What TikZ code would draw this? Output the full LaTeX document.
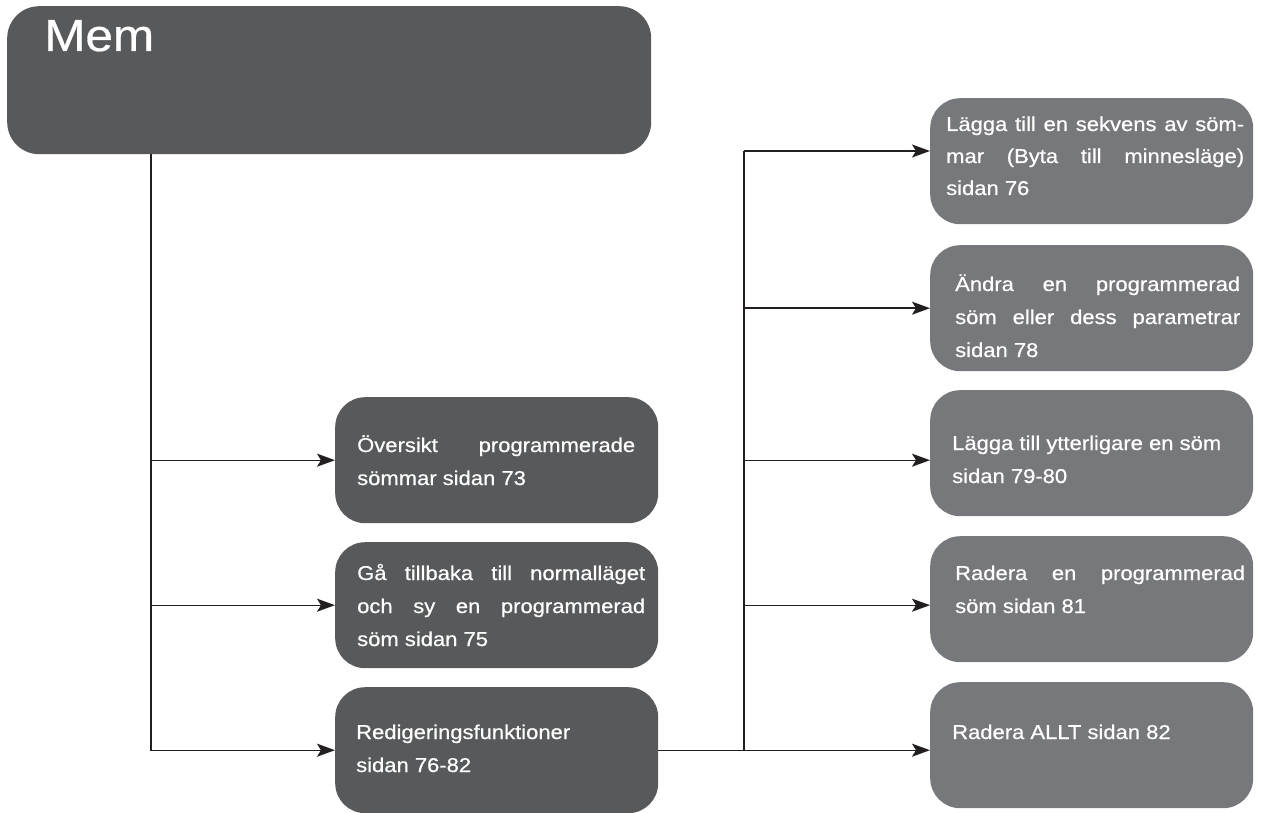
\documentclass[tikz,border=0pt]{standalone}
\usepackage{fontspec}
\setmainfont[FakeStretch=1.1,FakeBold=0.6]{Liberation Sans}
\usetikzlibrary{arrows.meta}
\definecolor{dkbox}{HTML}{58595B}
\definecolor{ltbox}{HTML}{77787B}
\definecolor{wirec}{HTML}{231F20}
\begin{document}
\begin{tikzpicture}[x=1pt,y=-1pt,
  box/.style={rounded corners=30pt, inner sep=0pt, minimum width=323pt, minimum height=126pt, anchor=north west},
  dbox/.style={box, fill=dkbox},
  lbox/.style={box, fill=ltbox},
  txt/.style={anchor=base west, inner sep=0pt, text=white, font=\fontsize{20}{33}\selectfont},
  wire/.style={draw=wirec, line width=1.4pt},
  arr/.style={wire, -{Stealth[length=18pt,width=13pt,inset=4pt]}}]
\fill[white] (0,0) rectangle (1262,813);
\useasboundingbox (0,0) rectangle (1262,813);
% boxes
\node[dbox, minimum width=644pt, minimum height=148pt, rounded corners=32pt] (m) at (7,6) {};
\node[dbox] (b1) at (335,397) {};
\node[dbox] (b2) at (335,542) {};
\node[dbox] (b3) at (335,687) {};
\node[lbox] (r1) at (930,98) {};
\node[lbox] (r2) at (930,245) {};
\node[lbox] (r3) at (930,390) {};
\node[lbox] (r4) at (930,536) {};
\node[lbox] (r5) at (930,682) {};
% texts
\node[anchor=base west, inner sep=0pt, text=white, font=\fontsize{45}{45}\selectfont] (mt) at (44,51) {Mem};
\node[txt] (t1) at (357,452) {\parbox[t]{278pt}{Översikt programmerade\linebreak sömmar sidan 73}};
\node[txt] (t2) at (357,580) {\parbox[t]{288pt}{Gå tillbaka till normalläget\linebreak och sy en programmerad\linebreak söm sidan 75}};
\node[txt] (t3) at (356,739) {\parbox[t]{290pt}{Redigeringsfunktioner\newline sidan 76-82}};
\node[txt, font=\fontsize{20}{32}\selectfont] (u1) at (946,131) {\parbox[t]{298pt}{Lägga till en sekvens av söm-\linebreak mar (Byta till minnesläge)\linebreak sidan 76}};
\node[txt] (u2) at (955,291) {\parbox[t]{285pt}{Ändra en programmerad\linebreak söm eller dess parametrar\linebreak sidan 78}};
\node[txt] (u3) at (952,450) {\parbox[t]{290pt}{Lägga till ytterligare en söm\newline sidan 79-80}};
\node[txt] (u4) at (955,580) {\parbox[t]{290pt}{Radera en programmerad\linebreak söm sidan 81}};
\node[txt] (u5) at (952,739) {\parbox[t]{290pt}{Radera ALLT sidan 82}};
% connectors
\coordinate (jl) at (m.south -| 151,0);
\draw[arr] (jl) |- (b3.west);
\draw[arr] (jl |- b1.west) -- (b1.west);
\draw[arr] (jl |- b2.west) -- (b2.west);
\draw[arr] (b3.east) -- (b3.east -| r5.west);
\coordinate (jr) at (744,151);
\draw[wire] (jr) -- (jr |- b3.east);
\draw[arr] (jr) -- (jr -| r1.west);
\draw[arr] (jr |- r2.west) -- (r2.west);
\draw[arr] (jr |- b1.west) -- (b1.west -| r3.west);
\draw[arr] (jr |- b2.west) -- (b2.west -| r4.west);
\end{tikzpicture}
\end{document}
